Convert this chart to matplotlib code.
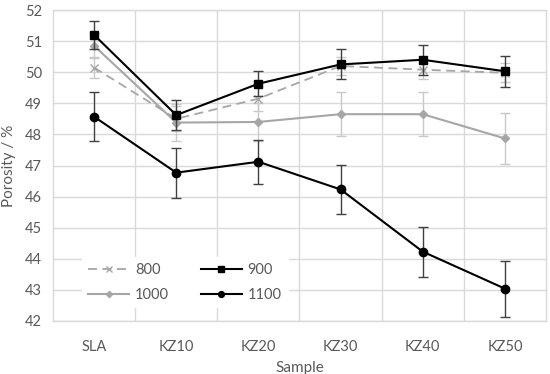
import matplotlib
matplotlib.use("Agg")
import matplotlib.pyplot as plt
import numpy as np

samples = ["SLA", "KZ10", "KZ20", "KZ30", "KZ40", "KZ50"]
s800 = [50.15, 48.5, 49.15, 50.2, 50.08, 49.98]
e800 = [0.35, 0.4, 0.4, 0.3, 0.3, 0.3]
s900 = [51.2, 48.62, 49.63, 50.25, 50.4, 50.03]
e900 = [0.45, 0.48, 0.4, 0.48, 0.48, 0.5]
s1000 = [50.85, 48.38, 48.4, 48.65, 48.65, 47.87]
e1000 = [0.4, 0.6, 0.6, 0.7, 0.7, 0.83]
s1100 = [48.57, 46.77, 47.12, 46.23, 44.23, 43.04]
e1100 = [0.78, 0.8, 0.7, 0.8, 0.8, 0.9]

plt.rcParams['font.family'] = ['Lato', 'DejaVu Sans']

fig = plt.figure(figsize=(5.5, 3.74), dpi=100)
ax = fig.add_axes([53/550, 1-321/374, 493/550, 311/374])
x = np.arange(len(samples))

lg = "#a6a6a6"
ax.errorbar(x, s800, yerr=e800, color=lg, ls=(0, (5, 3)), lw=1.3, marker='x', ms=6,
            mew=1.0, ecolor="#c8c8c8", elinewidth=1.0, capsize=3.5, capthick=1.0, label="800", zorder=3)
ax.errorbar(x, s1000, yerr=e1000, color=lg, ls='-', lw=1.5, marker='D', ms=4.5,
            ecolor="#c8c8c8", elinewidth=1.0, capsize=3.5, capthick=1.0, label="1000", zorder=3)
ax.errorbar(x, s900, yerr=e900, color="black", ls='-', lw=1.5, marker='s', ms=6,
            ecolor="#404040", elinewidth=1.0, capsize=3.5, capthick=1.0, label="900", zorder=4)
ax.errorbar(x, s1100, yerr=e1100, color="black", ls='-', lw=1.5, marker='o', ms=6,
            ecolor="#404040", elinewidth=1.0, capsize=3.5, capthick=1.0, label="1100", zorder=4)

ax.set_xlim(-0.5, len(samples) - 0.5)
ax.set_ylim(42, 52)
ax.set_yticks(np.arange(42, 53, 1))
ax.set_xticks(x)
ax.set_xticklabels(samples)
ax.set_xticks(np.arange(0.5, len(samples) - 0.5, 1), minor=True)
ax.grid(True, which='major', axis='y', color="#d9d9d9", lw=1.0)
ax.grid(True, which='minor', axis='x', color="#d9d9d9", lw=1.0)
ax.set_axisbelow(True)
ax.tick_params(which='both', length=0, labelsize=10.5, colors="#595959")
ax.tick_params(axis='x', pad=14)
ax.tick_params(axis='y', pad=8)
for sp in ax.spines.values():
    sp.set_color("#d9d9d9")
    sp.set_linewidth(1.0)

ax.set_xlabel("Sample", fontsize=11, color="#595959", labelpad=5)
ax.set_ylabel("Porosity / %", fontsize=11, color="#595959", labelpad=6)

handles, labels = ax.get_legend_handles_labels()
order = [labels.index(l) for l in ["800", "1000", "900", "1100"]]
leg = ax.legend([handles[i][0] for i in order], [labels[i] for i in order], ncol=2,
                loc='lower left', bbox_to_anchor=(0.045, 0.02), frameon=True,
                fontsize=10.5, handlelength=2.8, columnspacing=2.2, labelspacing=0.75,
                handletextpad=0.4, markerscale=0.7)
leg.get_frame().set_facecolor("white")
leg.get_frame().set_edgecolor("white")
leg.get_frame().set_alpha(1)
for t in leg.get_texts():
    t.set_color("#595959")

fig.savefig("out.png", dpi=100)
